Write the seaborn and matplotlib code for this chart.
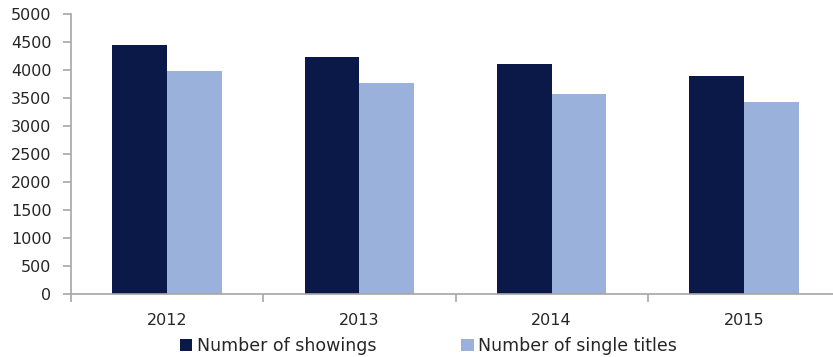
import matplotlib
matplotlib.use("Agg")
import matplotlib.pyplot as plt
import seaborn as sns
import pandas as pd
from matplotlib.patches import Patch

years = ["2012", "2013", "2014", "2015"]
showings = [4440, 4240, 4115, 3885]
single_titles = [3975, 3760, 3575, 3435]
series_names = ["Number of showings", "Number of single titles"]
y_ticks = [0, 500, 1000, 1500, 2000, 2500, 3000, 3500, 4000, 4500, 5000]

colors = ["#0a1947", "#9ab1db"]
axis_gray = "#a6a6a6"
text_color = "#262626"

df = pd.DataFrame({
    "year": years * 2,
    "value": showings + single_titles,
    "series": [series_names[0]] * len(years) + [series_names[1]] * len(years),
})

sns.set_theme(style="white")
plt.rcParams["font.family"] = ["DejaVu Sans"]

fig = plt.figure(figsize=(8.33, 3.57), dpi=100)
ax = fig.add_axes([71 / 833, 63 / 357, 769 / 833, 280 / 357])

sns.barplot(data=df, x="year", y="value", hue="series", palette=colors,
            width=0.57, gap=0, saturation=1, linewidth=0, ax=ax, legend=False)

ax.set_xlim(-0.5, 3.5)
ax.set_ylim(0, 5000)
ax.set_yticks(y_ticks)
ax.set_yticklabels([str(t) for t in y_ticks])
ax.set_xlabel("")
ax.set_ylabel("")

for side in ["top", "right"]:
    ax.spines[side].set_visible(False)
for side in ["left", "bottom"]:
    ax.spines[side].set_color(axis_gray)
    ax.spines[side].set_linewidth(1.2)

# category separators as outward ticks on the x axis
ax.set_xticks([i - 0.5 for i in range(len(years) + 1)], minor=True)
ax.tick_params(axis="x", which="minor", direction="out", length=6, width=1.2,
               color=axis_gray, bottom=True)
ax.tick_params(axis="x", which="major", length=0, pad=14, labelsize=11.5,
               labelcolor=text_color)
ax.tick_params(axis="y", direction="out", length=6, width=1.2, color=axis_gray,
               left=True, pad=8, labelsize=11.5, labelcolor=text_color)

handles = [Patch(facecolor=c, edgecolor="none") for c in colors]
fig.legend(handles, series_names, loc="center", bbox_to_anchor=(428.5 / 833, 1 - 346 / 357),
           ncol=2, frameon=False, fontsize=12.5, handlelength=0.7, handleheight=0.7,
           handletextpad=0.25, columnspacing=4.9, labelcolor=text_color, borderaxespad=0)

fig.savefig("out.png", dpi=100)
